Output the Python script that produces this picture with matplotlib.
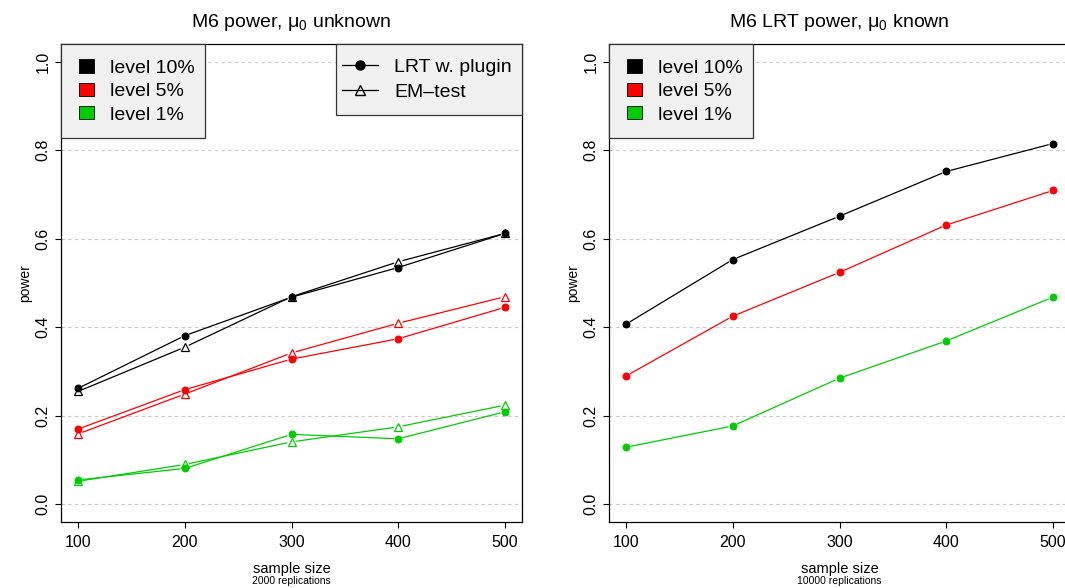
import matplotlib
matplotlib.use("Agg")
import matplotlib.pyplot as plt
import numpy as np
from matplotlib.patches import Patch, Rectangle
from matplotlib.lines import Line2D

plt.rcParams['font.family'] = ['Liberation Sans', 'DejaVu Sans']
plt.rcParams['mathtext.fontset'] = 'custom'
plt.rcParams['mathtext.rm'] = 'Liberation Sans'
plt.rcParams['mathtext.it'] = 'Liberation Sans'

sample_sizes = [100, 200, 300, 400, 500]
level_labels = ["level 10%", "level 5%", "level 1%"]
level_colors = ["#000000", "#FF0000", "#00CD00"]
method_labels = ["LRT w. plugin", "EM\u2013test"]

# left panel (mu0 unknown): LRT with plugin and EM-test
lrt_plugin_10 = [0.262, 0.381, 0.468, 0.535, 0.612]
lrt_plugin_5 = [0.170, 0.259, 0.328, 0.374, 0.445]
lrt_plugin_1 = [0.055, 0.081, 0.158, 0.148, 0.209]
em_test_10 = [0.255, 0.355, 0.469, 0.548, 0.612]
em_test_5 = [0.159, 0.249, 0.342, 0.409, 0.469]
em_test_1 = [0.052, 0.090, 0.141, 0.175, 0.224]

# right panel (mu0 known): LRT
lrt_known_10 = [0.407, 0.553, 0.651, 0.752, 0.815]
lrt_known_5 = [0.290, 0.425, 0.524, 0.631, 0.709]
lrt_known_1 = [0.129, 0.177, 0.285, 0.369, 0.468]

W, H = 1065, 588
fig = plt.figure(figsize=(W / 100, H / 100), dpi=100)

AX_W, AX_H = 461, 478

def ax_rect(x0, ytop):
    return [x0 / W, 1 - (ytop + AX_H) / H, AX_W / W, AX_H / H]

axL = fig.add_axes(ax_rect(61, 44))
axR = fig.add_axes(ax_rect(609, 44))

def setup(ax, title, repl):
    ax.set_xlim(84, 516)
    ax.set_ylim(-0.04, 1.04)
    ax.set_xticks(sample_sizes)
    ax.set_yticks([0.0, 0.2, 0.4, 0.6, 0.8, 1.0])
    ax.set_yticklabels(["0.0", "0.2", "0.4", "0.6", "0.8", "1.0"], rotation=90, va='center')
    ax.tick_params(axis='both', direction='out', length=4.3, width=0.8, labelsize=11.5)
    ax.tick_params(axis='y', pad=3)
    ax.tick_params(axis='x', pad=5)
    for yv in [0.0, 0.2, 0.4, 0.6, 0.8, 1.0]:
        ax.axhline(yv, color='#c8c8c8', lw=0.8, ls=(0, (3, 3)), zorder=0)
    for s in ax.spines.values():
        s.set_linewidth(0.9)
    ax.set_title(title, fontsize=14, pad=12)
    ax.set_ylabel("power", fontsize=10, labelpad=3)
    ax.set_xlabel("sample size", fontsize=10.5, labelpad=9)
    ax.text(0.5, -0.124, repl, transform=ax.transAxes, ha='center', va='center', fontsize=7.5)

setup(axL, r"M6 power, $\mu_0$ unknown", "2000 replications")
setup(axR, r"M6 LRT power, $\mu_0$ known", "10000 replications")

def draw_b(ax, xs, ys, color, marker, mfc, ms, gap=5.0):
    # line segments with gaps near points (like R type="b")
    tr = ax.transData
    pts = tr.transform(np.column_stack([xs, ys]))
    inv = tr.inverted()
    for i in range(len(pts) - 1):
        p0, p1 = pts[i], pts[i + 1]
        d = p1 - p0
        L = np.hypot(*d)
        if L <= 2 * gap:
            continue
        u = d / L
        a = inv.transform(p0 + u * gap)
        b = inv.transform(p1 - u * gap)
        ax.plot([a[0], b[0]], [a[1], b[1]], color=color, lw=0.9, zorder=2)
    ax.plot(xs, ys, ls='none', marker=marker, ms=ms, mfc=mfc, mec=color, mew=0.9, zorder=3)

left_lrt = [lrt_plugin_10, lrt_plugin_5, lrt_plugin_1]
left_em = [em_test_10, em_test_5, em_test_1]
right_lrt = [lrt_known_10, lrt_known_5, lrt_known_1]

for vals, c in zip(left_lrt, level_colors):
    draw_b(axL, sample_sizes, vals, c, 'o', c, 4.8)
for vals, c in zip(left_em, level_colors):
    draw_b(axL, sample_sizes, vals, c, '^', 'none', 6.0)
for vals, c in zip(right_lrt, level_colors):
    draw_b(axR, sample_sizes, vals, c, 'o', c, 4.8)

def px_to_axes(px, py):
    # pixel offsets relative to axes top-left corner -> axes fraction
    return px / AX_W, 1 - py / AX_H

def frame_box(ax, x0, y0, x1, y1):
    fx0, fy1 = px_to_axes(x0, y0)
    fx1, fy0 = px_to_axes(x1, y1)
    r = Rectangle((fx0, fy0), fx1 - fx0, fy1 - fy0, transform=ax.transAxes,
                  facecolor='#f0f0f0', edgecolor='#333333', lw=0.9, zorder=4, clip_on=False)
    ax.add_patch(r)

def level_legend(ax):
    frame_box(ax, 0, 0, 144, 94)
    handles = [Patch(facecolor=c, edgecolor='black', lw=0.6) for c in level_colors]
    leg = ax.legend(handles, level_labels, loc='center',
                    bbox_to_anchor=px_to_axes(76.0, 47.5), borderaxespad=0, borderpad=0,
                    fontsize=14, frameon=False, handlelength=0.77,
                    handleheight=0.67, handletextpad=0.85, labelspacing=0.31)
    leg.set_zorder(5)
    return leg

legL = level_legend(axL)
axL.add_artist(legL)

frame_box(axL, 275, 0, 461, 71)
method_handles = [
    Line2D([], [], color='black', lw=0.9, marker='o', ms=6.5, mfc='black'),
    Line2D([], [], color='black', lw=0.9, marker='^', ms=7.5, mfc='none'),
]
legM = axL.legend(method_handles, method_labels, loc='center',
                  bbox_to_anchor=px_to_axes(366, 36.0), borderaxespad=0, borderpad=0,
                  fontsize=14, frameon=False, handlelength=1.85, handletextpad=0.85,
                  labelspacing=0.38)
legM.set_zorder(5)

level_legend(axR)

fig.savefig("out.png", dpi=100)
